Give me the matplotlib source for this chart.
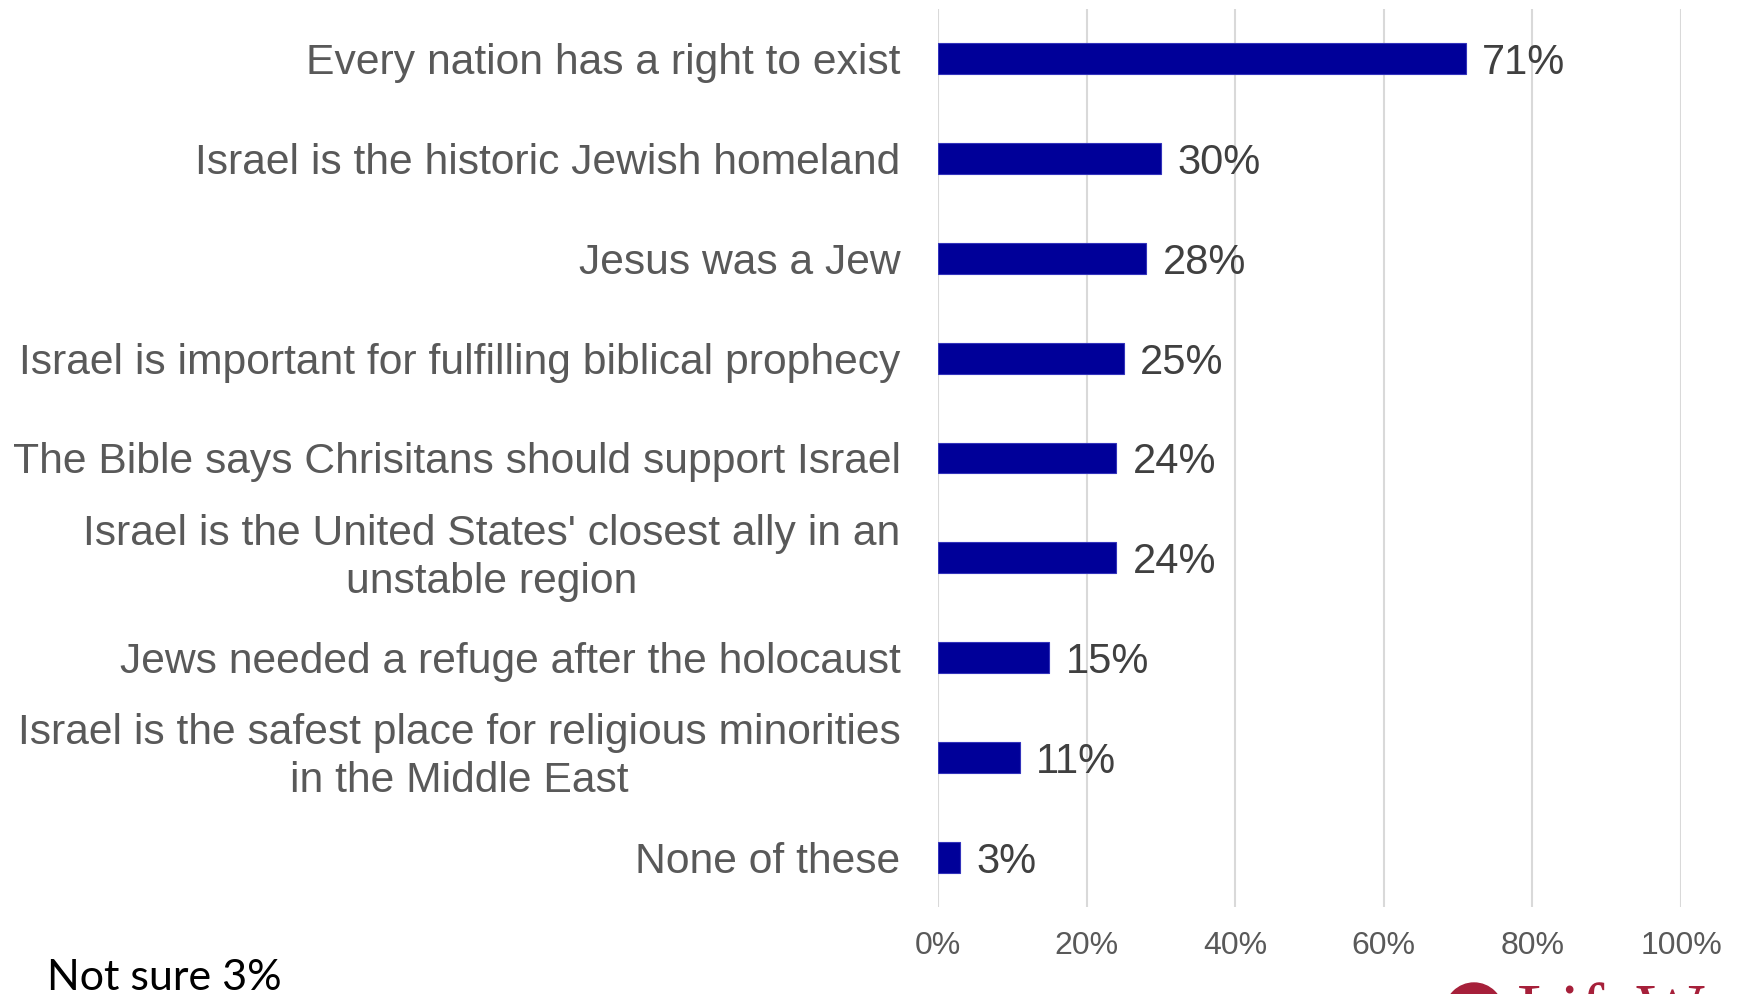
import matplotlib.pyplot as plt
from matplotlib.patches import Ellipse
import numpy as np

plt.rcParams['font.family'] = ['Liberation Sans', 'DejaVu Sans']

# data
categories = [
    'Every nation has a right to exist',
    'Israel is the historic Jewish homeland',
    'Jesus was a Jew',
    'Israel is important for fulfilling biblical prophecy',
    'The Bible says Chrisitans should support Israel',
    "Israel is the United States' closest ally in an\nunstable region",
    'Jews needed a refuge after the holocaust',
    'Israel is the safest place for religious minorities\nin the Middle East',
    'None of these',
]
values = [71, 30, 28, 25, 24, 24, 15, 11, 3]
ticks = [0, 20, 40, 60, 80, 100]
tick_labels = ['0%', '20%', '40%', '60%', '80%', '100%']

fig = plt.figure(figsize=(17.39, 9.94), dpi=100)
ax = fig.add_axes([0.5394, 0.0875, 0.4273, 0.9035])

y = np.arange(len(categories))
ax.barh(y, values, height=0.31, color='#000099', edgecolor='#3333bb',
        linewidth=0.8, zorder=3)

for yi, v in zip(y, values):
    ax.text(v + 2.2, yi, f'{v}%', va='center_baseline', ha='left',
            fontsize=30, color='#404040')

ax.set_xlim(0, 100)
ax.set_ylim(len(categories) - 0.5, -0.5)
ax.set_xticks(ticks)
ax.set_xticklabels(tick_labels, fontsize=23, color='#595959')
ax.set_yticks(y)
ax.set_yticklabels(categories, fontsize=30.7, color='#595959',
                   multialignment='center', linespacing=1.25)
for lbl in ax.get_yticklabels():
    if '\n' in lbl.get_text():
        lbl.set_verticalalignment('center')
    else:
        lbl.set_verticalalignment('center_baseline')
ax.tick_params(axis='y', length=0, pad=27)
ax.tick_params(axis='x', length=0, pad=17)
ax.grid(axis='x', color='#D9D9D9', linewidth=1.5, zorder=0)
for s in ax.spines.values():
    s.set_visible(False)

fig.text(47 / 1739, 1 - 990 / 994, 'Not sure 3%', fontsize=31,
         family=['Lato', 'DejaVu Sans'], color='black', ha='left', va='baseline')

# cut-off logo at bottom right
fig.patches.append(Ellipse((1474 / 1739, 1 - 1012 / 994), 58 / 1739, 58 / 994,
                           transform=fig.transFigure, color='#A6203A'))
fig.text(1517 / 1739, 1 - 982 / 994, 'LifeWay', fontsize=52,
         family=['Liberation Serif'], color='#A6203A', ha='left', va='top')

plt.savefig('out.png', dpi=100)
